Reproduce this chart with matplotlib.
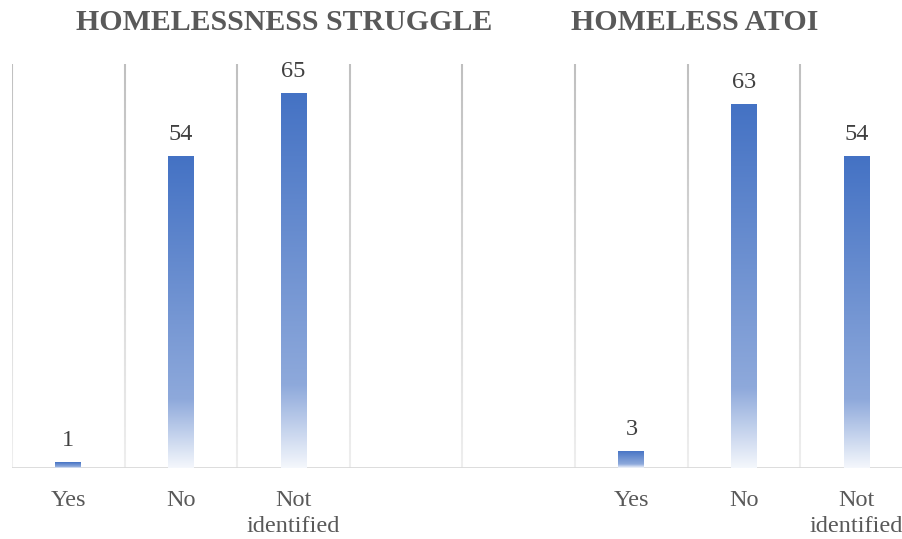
import numpy as np
import matplotlib
matplotlib.use("Agg")
import matplotlib.pyplot as plt
from matplotlib.colors import LinearSegmentedColormap, to_rgb
from matplotlib.collections import LineCollection

# ---- data ----
categories = ["Yes", "No", "Not\nidentified", "", "", "Yes", "No", "Not\nidentified"]
struggle_values = [1, 54, 65]
atoi_values = [3, 63, 54]
struggle_pos = [0, 1, 2]
atoi_pos = [5, 6, 7]
titles = ["HOMELESSNESS STRUGGLE", "HOMELESS ATOI"]

plt.rcParams['font.family'] = ['Liberation Serif', 'DejaVu Serif']

W, H = 903, 539
fig = plt.figure(figsize=(W / 100, H / 100), dpi=100)
left, right = 12 / W, 913 / W
bottom, top = 1 - 468 / H, 1 - 64 / H
ax = fig.add_axes([left, bottom, right - left, top - bottom])
ax.set_xlim(-0.5, 7.5)
ax.set_ylim(0, 70)

for s in ax.spines.values():
    s.set_visible(False)
ax.set_yticks([])
ax.set_xticks(range(len(categories)))
ax.set_xticklabels(categories, fontsize=17.5, color="#595959", linespacing=1.3)
ax.tick_params(axis='x', length=0, pad=16)

# gradient gridlines at category boundaries
ys = np.linspace(0, 70, 120)
c_top = np.array(to_rgb("#BFBFBF"))
c_bot = np.array(to_rgb("#EEEEEE"))
for xb in np.arange(-0.5, 8.0, 1.0):
    segs = [[(xb, ys[i]), (xb, ys[i + 1])] for i in range(len(ys) - 1)]
    t = (ys[:-1] / 70.0)[:, None]
    cols = c_bot * (1 - t) + c_top * t
    lc = LineCollection(segs, colors=cols, linewidths=1.5, zorder=0)
    ax.add_collection(lc)

# baseline
ax.axhline(0, color="#D9D9D9", lw=2.0, zorder=1)

cmap = LinearSegmentedColormap.from_list(
    "bargrad",
    [(0.0, "#F4F7FC"), (0.22, "#8EA9DB"), (1.0, "#4472C4")])
grad = np.linspace(0, 1, 256).reshape(-1, 1)

width = 0.23
for pos, vals in ((struggle_pos, struggle_values), (atoi_pos, atoi_values)):
    bars = ax.bar(pos, vals, width=width, color="none", edgecolor="none", zorder=2)
    for b, v in zip(bars, vals):
        x0 = b.get_x()
        im = ax.imshow(grad, cmap=cmap, origin="lower", aspect="auto",
                       extent=[x0, x0 + b.get_width(), 0, v], zorder=2,
                       interpolation="bilinear")
        im.set_clip_path(b)
        ax.annotate(str(v), (b.get_x() + b.get_width() / 2, v),
                    xytext=(0, 8), textcoords="offset points",
                    ha="center", va="bottom", fontsize=17.5, color="#404040")
ax.set_xlim(-0.5, 7.5)
ax.set_ylim(0, 70)

fig.text(284.5 / W, 1 - 29.5 / H, titles[0], ha="center", va="baseline",
         fontsize=21.5, fontweight="bold", color="#595959")
fig.text(694.5 / W, 1 - 29.5 / H, titles[1], ha="center", va="baseline",
         fontsize=21.5, fontweight="bold", color="#595959")

fig.savefig("out.png", dpi=100)
